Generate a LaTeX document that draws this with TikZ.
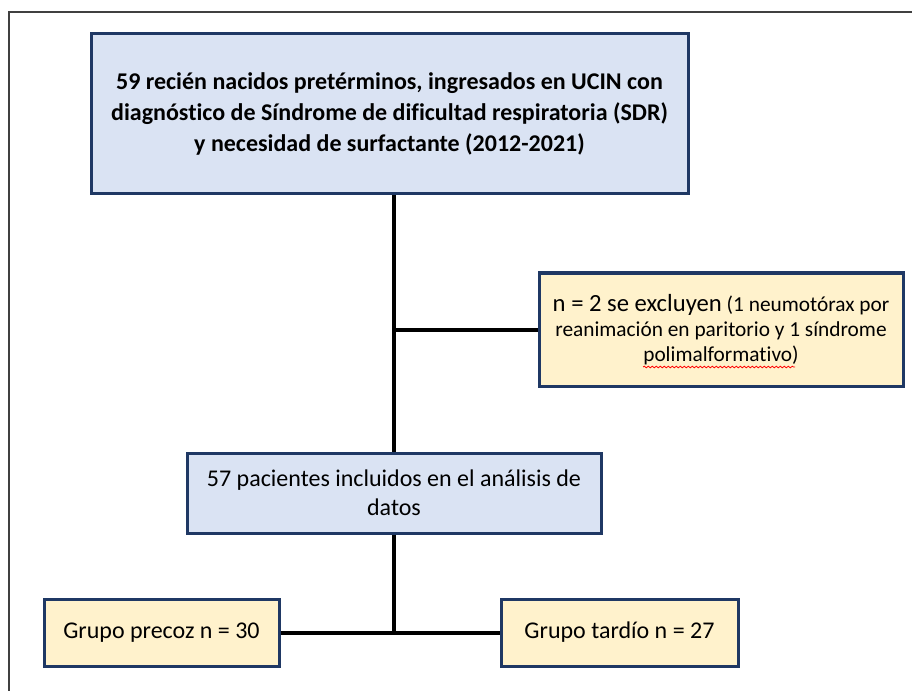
\documentclass[tikz,border=0pt]{standalone}
\usepackage{fontspec}
\setmainfont{Carlito}[Ligatures=CommonOff]
\usetikzlibrary{positioning,calc,decorations.pathmorphing}

\definecolor{boxblue}{HTML}{DAE3F3}
\definecolor{boxyellow}{HTML}{FFF2CC}
\definecolor{boxline}{HTML}{1F3864}

\begin{document}
\begin{tikzpicture}[x=0.75pt,y=-0.75pt,
                    link/.style={line width=3pt,black},
                    flow box/.style={rectangle,draw=boxline,line width=2.25pt,
                      align=center,inner sep=4pt},
                    blue box/.style={flow box,fill=boxblue},
                    yellow box/.style={flow box,fill=boxyellow}]

  \useasboundingbox (0,0) rectangle (912,691);

  % page frame (only top and left edges show)
  \draw[line width=1.5pt,black!75] (912,12) -- (9,12) -- (9,691);

  \node[blue box,minimum width=447.75pt,minimum height=120pt,
        font=\fontsize{18}{23.5}\selectfont\bfseries] (top) at (389.5,114)
    {59 recién nacidos pretérminos, ingresados en UCIN con\\
     diagnóstico de Síndrome de dificultad respiratoria (SDR)\\
     y necesidad de surfactante (2012-2021)};

  \node[yellow box,minimum width=273pt,minimum height=84.75pt,
        font=\fontsize{16}{19}\selectfont] (excl) at (721,329.5)
    {{\fontsize{18.5}{19}\selectfont n = 2 se excluyen} (1 neumotórax por\\
     reanimación en paritorio y 1 síndrome\\
     polimalformativo)};

  \node[blue box,minimum width=310.5pt,minimum height=60pt,
        font=\fontsize{18}{22}\selectfont] (incl) at (394,493)
    {57 pacientes incluidos en el análisis de\\ datos};

  \node[yellow box,minimum width=176.25pt,minimum height=50.25pt,
        font=\fontsize{18}{20}\selectfont] (precoz) at (161.5,632.5)
    {Grupo precoz n = 30};
  \node[yellow box,minimum width=177.75pt,minimum height=50.25pt,
        font=\fontsize{18}{20}\selectfont] (tardio) at (619.5,632.5)
    {Grupo tardío n = 27};

  \draw[link] (top.south -| incl.north) -- (incl.north);
  \draw[link] (excl.west) -- (excl.west -| incl.north);

  \coordinate (split) at (incl.south |- precoz.east);
  \draw[link] (incl.south) -- (split);
  \draw[link] (precoz.east) -- (tardio.west);

  % spell-check squiggle under the last word
  \draw[red,line width=0.6pt,decorate,
        decoration={snake,amplitude=0.6pt,segment length=3pt}]
    ($(excl.center)+(-78,37.5)$) -- ($(excl.center)+(74,37.5)$);
\end{tikzpicture}
\end{document}
